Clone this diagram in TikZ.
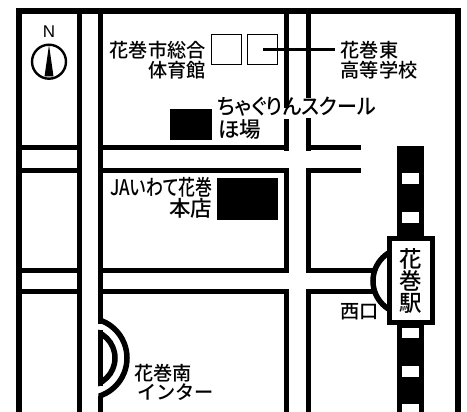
\documentclass[tikz,border=0pt]{standalone}
\usepackage{graphicx}
\usepackage{fontspec}
\setmainfont{Liberation Sans}
\newfontfamily\cjk{Noto Sans CJK JP Medium}
\newfontfamily\cjkp[RawFeature=+palt]{Noto Sans CJK JP Medium}
\tikzset{
  x=1pt,y=-1pt,
  road/.style={line width=5pt,line cap=butt},
  solid block/.style={fill=black,draw=none},
  lbl/.style={inner sep=0pt,font=\cjk\fontsize{19.2}{19.2}\selectfont},
  biglbl/.style={inner sep=0pt,font=\cjk\fontsize{21.5}{21.5}\selectfont},
  proplbl/.style={inner sep=0pt,font=\cjkp\fontsize{21.5}{21.5}\selectfont},
  stationlbl/.style={inner sep=0pt,font=\cjk\fontsize{22.5}{22.5}\selectfont},
  gapfill/.style={fill=white,draw=none},
  hole/.style={fill=white,draw=none},
}
\begin{document}
\begin{tikzpicture}
\useasboundingbox (0,0) rectangle (467,412);
% frame
\draw[line width=6pt,line cap=butt] (19,412) -- (19,11) -- (458,11) -- (458,412);
% main vertical road
\draw[road] (79.3,11) -- (79.3,412);
\draw[road] (100.8,11) -- (100.8,386);
\draw[road] (100.8,396) -- (100.8,412);
% second vertical road
\foreach \x in {286.5,308.5}{
  \draw[road] (\x,11) -- (\x,151);
  \draw[road] (\x,168) -- (\x,273);
  \draw[road] (\x,289) -- (\x,412);
}
% horizontal roads
\foreach \y in {148,170.5}{
  \draw[road] (22,\y) -- (77,\y);
  \draw[road] (103,\y) -- (289,\y);
  \draw[road] (306,\y) -- (360.7,\y);
}
\foreach \y in {270.5,291.5}{
  \draw[road] (22,\y) -- (77,\y);
  \draw[road] (103,\y) -- (289,\y);
  \draw[road] (306,\y) -- (373,\y);
}
% interchange: white gap between the arcs, then the arcs
\fill[gapfill] (98,324) rectangle (103.5,330);
\begin{scope}
\clip (98.3,300) rectangle (140,412);
\draw[line width=5.5pt] (87,358) circle[radius=40];
\draw[line width=5.5pt] (87,358) circle[radius=28];
\end{scope}
% railway
\fill[solid block] (397,146) rectangle (424,412);
\foreach \a/\b in {173/184,212/223,328/338,366/377,404/412}{
  \fill[hole] (402.3,\a) rectangle (419,\b);
}
% west exit arc
\begin{scope}
\clip (360,240) rectangle (392,320);
\draw[line width=5.5pt] (406,281) circle[radius=33];
\end{scope}
% station
\node[draw=black,fill=white,line width=5pt,minimum width=43pt,minimum height=84pt,inner sep=0pt] (station) at (410.5,280.5) {};
\node[stationlbl] (st1) at (410.5,259) {花};
\node[stationlbl] (st2) at (410.5,280.5) {巻};
\node[stationlbl] (st3) at (410.5,303) {駅};
% compass
\node[draw=black,circle,line width=2.4pt,minimum size=34pt,inner sep=0pt] (compass) at (49,61.7) {};
\fill (49,45) -- (53.5,76.5) -- (44.5,76.5) -- cycle;
\node[inner sep=0pt,font=\fontsize{17}{17}\selectfont] (north) at (49,32) {N};
% buildings
\node[draw=black,line width=1pt,minimum width=30pt,minimum height=30pt,inner sep=0pt] (gym1) at (226,49.2) {};
\node[draw=black,line width=1pt,minimum width=30pt,minimum height=30pt,inner sep=0pt] (gym2) at (262.8,49.2) {};
\coordinate (leadA) at (263,49.3);
\coordinate (leadB) at (334.7,49.3);
\draw[line width=3.5pt] (leadA) -- (leadB);
\fill[solid block] (170,109) rectangle (212,140);
\fill[solid block] (217,178) rectangle (278,220);
% labels
\node[lbl,anchor=east] (a1) at (206,50) {花巻市総合};
\node[lbl,anchor=east] (a2) at (206,70.5) {体育館};
\node[lbl,anchor=west] (b1) at (340.5,50) {花巻東};
\node[lbl,anchor=west] (b2) at (340.5,70.5) {高等学校};
\fill[gapfill] (283,108) rectangle (292,119);
\fill[gapfill] (304,98) rectangle (313,118);
\node[proplbl,anchor=west] (c1) at (217,107) {\scalebox{0.93}[1]{ちゃぐりんスクール}};
\node[biglbl,anchor=west] (c2) at (218,129) {ほ場};
\node[proplbl,anchor=east] (d1) at (213,187.5) {\scalebox{0.79}[1]{JAいわて花巻}};
\node[biglbl,anchor=east] (d2) at (212.5,208.5) {本店};
\node[lbl,anchor=west] (e1) at (340.2,312) {西口};
\node[lbl,anchor=west] (f1) at (134,373) {花巻南};
\node[lbl,anchor=west] (f2) at (137,392) {インター};
\end{tikzpicture}
\end{document}
